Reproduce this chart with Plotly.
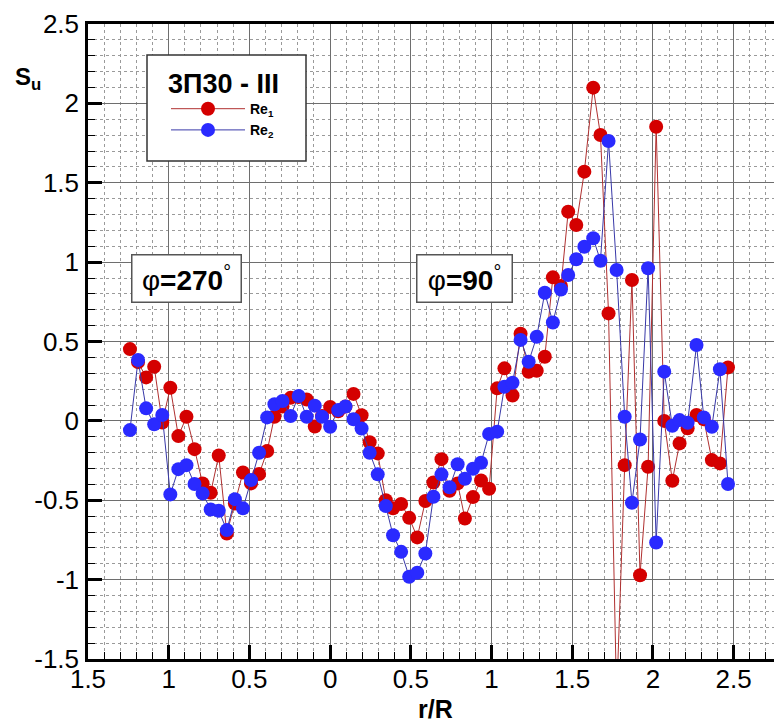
import plotly.graph_objects as go

# r/R positions: negative side is the phi=270 deg half, positive side phi=90 deg
r_pos = [-1.24, -1.19, -1.14, -1.09, -1.04, -0.99, -0.94, -0.89, -0.84, -0.79,
         -0.74, -0.69, -0.64, -0.59, -0.54, -0.49, -0.44, -0.39, -0.345, -0.295,
         -0.245, -0.195, -0.145, -0.095, -0.05, 0.0,
         0.05, 0.095, 0.145, 0.195, 0.245, 0.295, 0.345, 0.39, 0.44, 0.49,
         0.54, 0.59, 0.64, 0.69, 0.74, 0.79, 0.835, 0.885, 0.935, 0.985,
         1.035, 1.08, 1.13, 1.18, 1.23, 1.28, 1.33, 1.38, 1.43, 1.475,
         1.525, 1.575, 1.63, 1.675, 1.725, 1.775, 1.825, 1.87, 1.92, 1.97,
         2.02, 2.07, 2.12, 2.165, 2.215, 2.27, 2.315, 2.365, 2.415, 2.465]

su_re1 = [0.452, 0.37, 0.274, 0.341, -0.01, 0.209, -0.096, 0.026, -0.178, -0.394,
          -0.453, -0.218, -0.709, -0.52, -0.325, -0.394, -0.335, -0.19, 0.026, 0.09,
          0.145, 0.15, 0.135, -0.035, 0.03, 0.088,
          0.06, 0.09, 0.17, 0.035, -0.135, -0.205, -0.50, -0.551, -0.524, -0.611,
          -0.734, -0.505, -0.388, -0.241, -0.44, -0.394, -0.615, -0.48, -0.376, -0.428,
          0.205, 0.331, 0.16, 0.549, 0.309, 0.316, 0.404, 0.904, 0.85, 1.318,
          1.234, 1.57, 2.099, 1.801, 0.677, -1.75, -0.279, 0.887, -0.972, -0.289,
          1.853, 0.0, -0.377, -0.142, -0.047, 0.037, 0.01, -0.247, -0.268, 0.337]

su_re2 = [-0.058, 0.383, 0.079, -0.022, 0.037, -0.463, -0.304, -0.279, -0.398, -0.457,
          -0.558, -0.566, -0.688, -0.493, -0.551, -0.373, -0.201, 0.022, 0.105, 0.125,
          0.031, 0.157, 0.026, 0.096, 0.026, -0.037,
          0.068, 0.091, 0.01, -0.048, -0.201, -0.337, -0.537, -0.72, -0.825, -0.982,
          -0.957, -0.835, -0.478, -0.337, -0.418, -0.273, -0.365, -0.302, -0.264, -0.082,
          -0.068, 0.215, 0.24, 0.51, 0.372, 0.53, 0.807, 0.62, 0.828, 0.919,
          1.018, 1.097, 1.15, 1.009, 1.763, 0.95, 0.026, -0.516, -0.117, 0.961,
          -0.766, 0.31, -0.031, 0.005, -0.012, 0.478, 0.022, -0.037, 0.325, -0.398]

x_tick_vals = [-1.5, -1.0, -0.5, 0.0, 0.5, 1.0, 1.5, 2.0, 2.5]
x_tick_text = ["1.5", "1", "0.5", "0", "0.5", "1", "1.5", "2", "2.5"]
y_tick_vals = [-1.5, -1.0, -0.5, 0.0, 0.5, 1.0, 1.5, 2.0, 2.5]
y_tick_text = ["-1.5", "-1", "-0.5", "0", "0.5", "1", "1.5", "2", "2.5"]

FONT = "Liberation Sans, Arial, sans-serif"

fig = go.Figure()
fig.add_trace(go.Scatter(
    x=r_pos, y=su_re1, mode="lines+markers", name="<b>Re<sub>1</sub></b>",
    line=dict(color="#b03030", width=1),
    marker=dict(color="#d40000", size=14, line=dict(width=0)),
))
fig.add_trace(go.Scatter(
    x=r_pos, y=su_re2, mode="lines+markers", name="<b>Re<sub>2</sub></b>",
    line=dict(color="#3838a8", width=1),
    marker=dict(color="#2a2aff", size=14, line=dict(width=0)),
))

axis_common = dict(
    showline=True, linecolor="black", linewidth=2.5,
    showgrid=True, gridcolor="#6e6e6e", gridwidth=1,
    zeroline=False,
    ticks="inside", ticklen=14, tickwidth=2.5, tickcolor="black",
    tickfont=dict(family=FONT, size=26, color="black"),
    minor=dict(tickmode="linear", tick0=0, dtick=0.1, showgrid=True,
               gridcolor="#9a9a9a", griddash="dot", gridwidth=1,
               ticks="inside", ticklen=7, tickwidth=1.2, tickcolor="black"),
)

fig.update_xaxes(range=[-1.5, 2.75], tickmode="array", tickvals=x_tick_vals,
                 ticktext=x_tick_text, mirror=True, ticklabelstandoff=-5,
                 **axis_common)
fig.update_yaxes(range=[-1.5, 2.5], tickmode="array", tickvals=y_tick_vals,
                 ticktext=y_tick_text, ticklabelstandoff=1, **axis_common)

# legend frame (the legend itself is drawn transparent on top of it)
legend_frame = dict(type="rect", xref="paper", yref="paper",
                    x0=(147 - 88) / 686, x1=(306 - 88) / 686,
                    y0=(659 - 161) / 635, y1=(659 - 55) / 635,
                    line=dict(color="#333333", width=1.5), fillcolor="white",
                    layer="above")

fig.update_layout(
    width=774, height=722,
    margin=dict(l=88, r=0, t=24, b=63),
    paper_bgcolor="white", plot_bgcolor="white",
    font=dict(family=FONT, color="black"),
    showlegend=True,
    shapes=[legend_frame],
    legend=dict(
        x=(166 - 88) / 686, y=(659 - 58) / 635, xanchor="left", yanchor="top",
        bgcolor="rgba(0,0,0,0)", borderwidth=0,
        title=dict(text="<b>3П30 - III</b>", side="top center",
                   font=dict(family=FONT, size=27, color="black")),
        font=dict(family=FONT, size=14, color="black"),
        itemwidth=74, tracegroupgap=0,
    ),
    annotations=[
        dict(x=-0.889, y=0.896, xref="x", yref="y", showarrow=False,
             text="φ<b>=270</b><sup>°</sup>", width=104, height=42,
             font=dict(family=FONT, size=28, color="black"),
             bgcolor="white", bordercolor="#555555", borderwidth=1.5, borderpad=2),
        dict(x=0.830, y=0.896, xref="x", yref="y", showarrow=False,
             text="φ<b>=90</b><sup>°</sup>", width=90, height=42,
             font=dict(family=FONT, size=28, color="black"),
             bgcolor="white", bordercolor="#555555", borderwidth=1.5, borderpad=2),
        dict(x=(435 - 88) / 686, y=(659 - 709) / 635, xref="paper", yref="paper",
             xanchor="center", yanchor="middle", showarrow=False,
             text="<b>r/R</b>", font=dict(family=FONT, size=25, color="black")),
        dict(x=(13 - 88) / 686, y=(659 - 78) / 635, xref="paper", yref="paper",
             xanchor="left", yanchor="middle", showarrow=False,
             text="<b>S<sub>u</sub></b>", font=dict(family=FONT, size=24, color="black")),
    ],
)

fig.write_html("out.html")
